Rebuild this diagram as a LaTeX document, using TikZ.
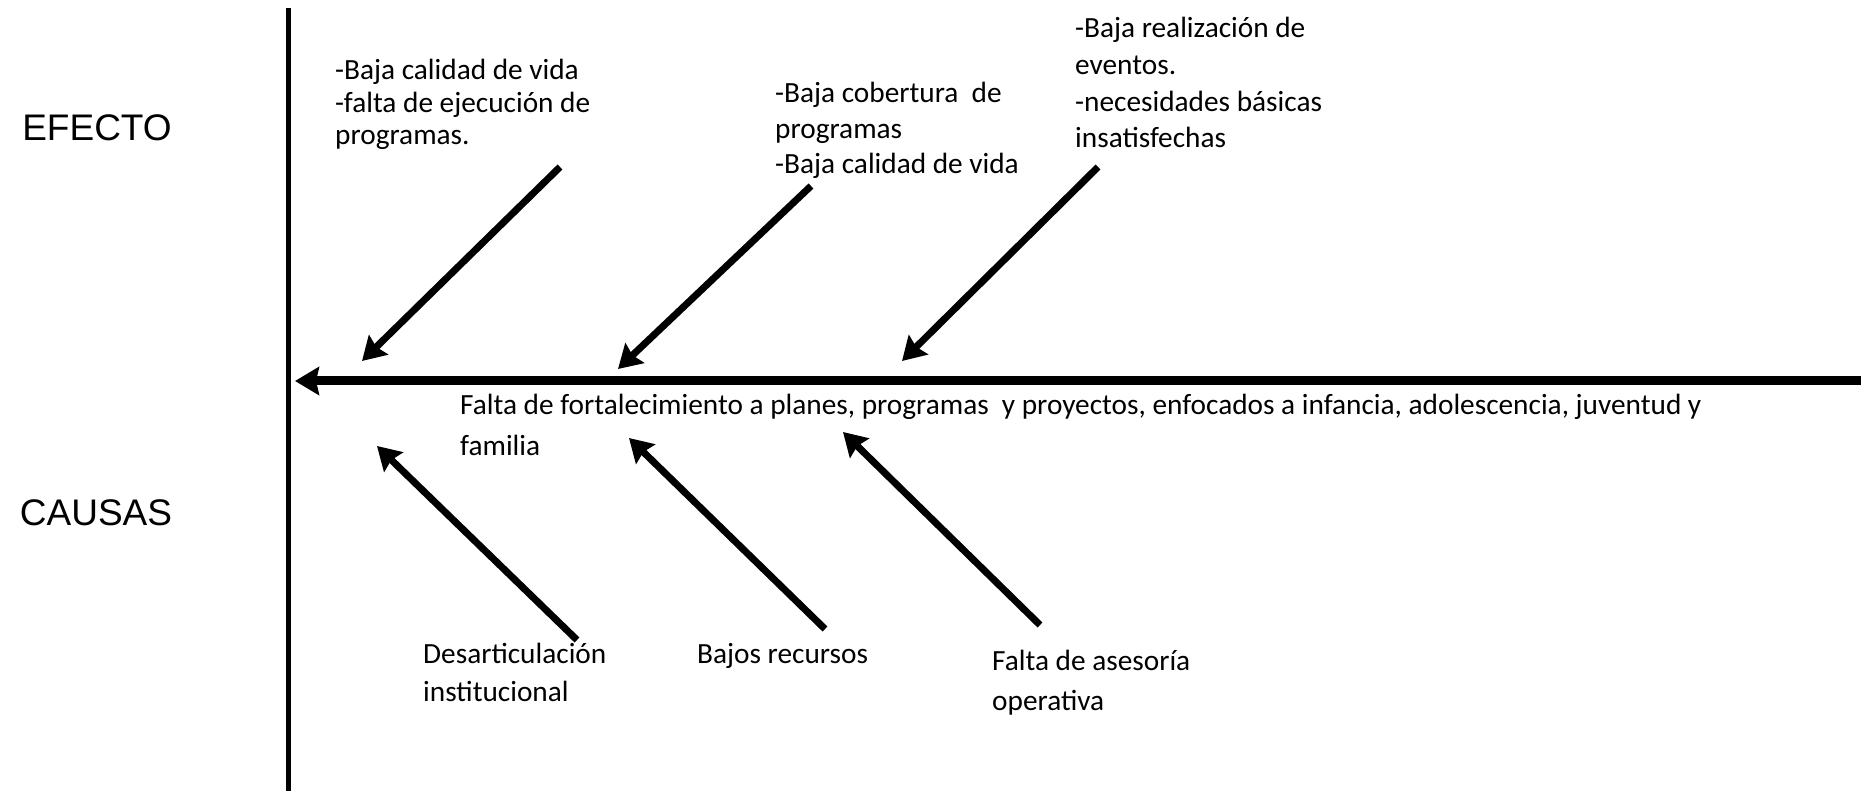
\documentclass[tikz,border=0pt]{standalone}
\usepackage{fontspec}
\setmainfont{Carlito}
\newfontfamily\arialf{Liberation Sans}
\usetikzlibrary{arrows.meta}
\tikzset{
  lbl/.style={inner sep=0pt, anchor=base west, align=left, font=\fontsize{29.3}{32.5}\selectfont},
  side/.style={inner sep=0pt, anchor=center, font=\arialf\fontsize{37}{40}\selectfont},
  spine/.style={line width=9pt, -{Stealth[length=24pt,width=28pt,inset=3pt]}},
  bone/.style={line width=7pt, -{Stealth[length=23pt,width=27pt,inset=3pt]}},
  axis/.style={line width=5pt}
}
\begin{document}
\begin{tikzpicture}[x=1pt,y=-1pt]
\useasboundingbox (0,0) rectangle (1861,791);
% coordinates
\coordinate (vtop) at (288,8);
\coordinate (vbot) at (288,791);
\coordinate (sE) at (1861,381);
\coordinate (sW) at (295,381);
\coordinate (e1s) at (560,167);
\coordinate (e1e) at (362,361);
\coordinate (e2s) at (811,186);
\coordinate (e2e) at (618,369);
\coordinate (e3s) at (1098,167);
\coordinate (e3e) at (902,361);
\coordinate (c1s) at (577,640);
\coordinate (c1e) at (377,446);
\coordinate (c2s) at (825,629);
\coordinate (c2e) at (629,438);
\coordinate (c3s) at (1040,625);
\coordinate (c3e) at (843,432);
% lines
\draw[axis] (vtop) -- (vbot);
\draw[spine] (sE) -- (sW);
\draw[bone] (e1s) -- (e1e);
\draw[bone] (e2s) -- (e2e);
\draw[bone] (e3s) -- (e3e);
\draw[bone] (c1s) -- (c1e);
\draw[bone] (c2s) -- (c2e);
\draw[bone] (c3s) -- (c3e);
% side labels
\node[side] (efecto) at (97,128) {EFECTO};
\node[side] (causas) at (96,513) {CAUSAS};
% effect texts (anchored at the baseline of the last line)
\node[lbl] (t1) at (335,145) {-Baja calidad de vida\\-falta de ejecución de\\programas.};
\node[lbl, font=\fontsize{29.3}{35.6}\selectfont] (t2) at (775,174) {-Baja cobertura~ de\\programas\\-Baja calidad de vida};
\node[lbl, font=\fontsize{29.3}{36.7}\selectfont] (t3) at (1075,148) {-Baja realización de\\eventos.\\-necesidades básicas\\insatisfechas};
% problem
\node[lbl, font=\fontsize{29.3}{41}\selectfont] (prob) at (460,456) {Falta de fortalecimiento a planes, programas~ y proyectos, enfocados a infancia, adolescencia, juventud y\\familia};
% causes
\node[lbl, font=\fontsize{29.3}{38}\selectfont] (k1) at (423,701) {Desarticulación\\institucional};
\node[lbl] (k2) at (697,663) {Bajos recursos};
\node[lbl, font=\fontsize{29.3}{40}\selectfont] (k3) at (992,710) {Falta de asesoría\\operativa};
\end{tikzpicture}
\end{document}
